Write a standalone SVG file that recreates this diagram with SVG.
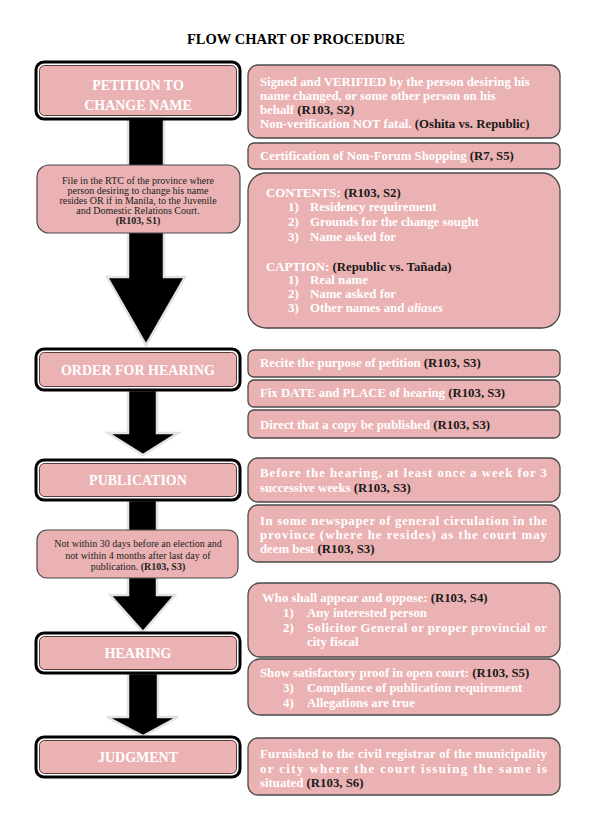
<svg xmlns="http://www.w3.org/2000/svg" width="593" height="821" viewBox="0 0 593 821">
<style>
.bg{fill:#ffffff}
.title{font-family:"Liberation Serif",serif;font-weight:bold;font-size:14.5px;fill:#000;text-anchor:middle}
.stageOuter{fill:none;stroke:#000;stroke-width:3}
.stageInner{fill:#ebb2b3;stroke:#5b3b3b;stroke-width:1}
.stageText{font-family:"Liberation Serif",serif;font-weight:bold;font-size:14px;fill:#fff;text-anchor:middle}
.box{fill:#ebb2b3;stroke:#4a4a4a;stroke-width:1.3}
.t{font-family:"Liberation Serif",serif;font-weight:bold;font-size:12.8px;fill:#fff}
.r{fill:#1a1a1a}
.note{fill:#ebb2b3;stroke:#4a4a4a;stroke-width:1.2}
.nt{font-family:"Liberation Serif",serif;font-size:10px;fill:#222;text-anchor:middle}
.arrow{fill:#000;stroke:#e2e2e2;stroke-width:2.5;stroke-linejoin:miter}
</style>
<rect class="bg" x="0" y="0" width="593" height="821"/>
<text class="title" x="296" y="44">FLOW CHART OF PROCEDURE</text>

<g id="connectors">
<polygon class="arrow" points="128,118 164,118 164,277 185,277 146,345 107,277 128,277"/>
<polygon class="arrow" points="128,390 157,390 157,433 178,433 143,455 108,433 128,433"/>
<polygon class="arrow" points="128,500 157,500 157,595 175,595 143,632 110,595 128,595"/>
<polygon class="arrow" points="128,673 158,673 158,717 178,717 143,736 107,717 128,717"/>
</g>

<g id="petition">
<rect class="stageOuter" x="36" y="62" width="204" height="57" rx="8"/>
<rect class="stageInner" x="39.5" y="65.5" width="197" height="50" rx="5"/>
<text class="stageText" x="138" y="90">PETITION TO</text>
<text class="stageText" x="138" y="110">CHANGE NAME</text>
</g>

<g id="note-file">
<rect class="note" x="37" y="165" width="203" height="68" rx="12"/>
<text class="nt" x="138" y="184">File in the RTC of the province where</text>
<text class="nt" x="138" y="194">person desiring to change his name</text>
<text class="nt" x="138" y="204">resides OR if in Manila, to the Juvenile</text>
<text class="nt" x="138" y="214">and Domestic Relations Court.</text>
<text class="nt" x="138" y="224" font-weight="bold">(R103, S1)</text>
</g>

<g id="signed">
<rect class="box" x="248" y="65" width="312" height="73" rx="10"/>
<text class="t" x="260" y="86">Signed and VERIFIED by the person desiring his</text>
<text class="t" x="260" y="100">name changed, or some other person on his</text>
<text class="t" x="260" y="114">behalf <tspan class="r">(R103, S2)</tspan></text>
<text class="t" x="260" y="128">Non-verification NOT fatal. <tspan class="r">(Oshita vs. Republic)</tspan></text>
</g>

<g id="certification">
<rect class="box" x="248" y="143" width="312" height="26" rx="6"/>
<text class="t" x="260" y="160">Certification of Non-Forum Shopping <tspan class="r">(R7, S5)</tspan></text>
</g>

<g id="contents">
<rect class="box" x="248" y="173" width="312" height="155" rx="18"/>
<text class="t" x="266" y="197">CONTENTS: <tspan class="r">(R103, S2)</tspan></text>
<text class="t" x="288" y="211">1)</text><text class="t" x="310" y="211">Residency requirement</text>
<text class="t" x="288" y="226">2)</text><text class="t" x="310" y="226">Grounds for the change sought</text>
<text class="t" x="288" y="241">3)</text><text class="t" x="310" y="241">Name asked for</text>
<text class="t" x="266" y="271">CAPTION: <tspan class="r">(Republic vs. Tañada)</tspan></text>
<text class="t" x="288" y="284">1)</text><text class="t" x="310" y="284">Real name</text>
<text class="t" x="288" y="298">2)</text><text class="t" x="310" y="298">Name asked for</text>
<text class="t" x="288" y="312">3)</text><text class="t" x="310" y="312">Other names and <tspan font-style="italic">aliases</tspan></text>
</g>

<g id="order">
<rect class="stageOuter" x="36" y="349" width="204" height="41" rx="8"/>
<rect class="stageInner" x="39.5" y="352.5" width="197" height="34" rx="5"/>
<text class="stageText" x="138" y="375">ORDER FOR HEARING</text>
</g>

<g id="recite">
<rect class="box" x="248" y="350" width="312" height="27" rx="6"/>
<text class="t" x="260" y="367">Recite the purpose of petition <tspan class="r">(R103, S3)</tspan></text>
</g>
<g id="fix">
<rect class="box" x="248" y="380" width="312" height="27" rx="6"/>
<text class="t" x="260" y="397">Fix DATE and PLACE of hearing <tspan class="r">(R103, S3)</tspan></text>
</g>
<g id="direct">
<rect class="box" x="248" y="410" width="312" height="28" rx="6"/>
<text class="t" x="260" y="429">Direct that a copy be published <tspan class="r">(R103, S3)</tspan></text>
</g>

<g id="publication">
<rect class="stageOuter" x="36" y="460" width="204" height="40" rx="8"/>
<rect class="stageInner" x="39.5" y="463.5" width="197" height="33" rx="5"/>
<text class="stageText" x="138" y="485">PUBLICATION</text>
</g>

<g id="before">
<rect class="box" x="248" y="458" width="312" height="44" rx="10"/>
<text class="t" x="260" y="477" textLength="287" lengthAdjust="spacing">Before the hearing, at least once a week for 3</text>
<text class="t" x="260" y="492">successive weeks <tspan class="r">(R103, S3)</tspan></text>
</g>
<g id="newspaper">
<rect class="box" x="248" y="505" width="312" height="57" rx="10"/>
<text class="t" x="260" y="525" textLength="287" lengthAdjust="spacing">In some newspaper of general circulation in the</text>
<text class="t" x="260" y="539" textLength="287" lengthAdjust="spacing">province (where he resides) as the court may</text>
<text class="t" x="260" y="553">deem best <tspan class="r">(R103, S3)</tspan></text>
</g>

<g id="note-election">
<rect class="note" x="37" y="530" width="201" height="48" rx="10"/>
<text class="nt" x="138" y="547">Not within 30 days before an election and</text>
<text class="nt" x="138" y="559">not within 4 months after last day of</text>
<text class="nt" x="138" y="570">publication. <tspan font-weight="bold">(R103, S3)</tspan></text>
</g>

<g id="hearing">
<rect class="stageOuter" x="36" y="633" width="204" height="40" rx="8"/>
<rect class="stageInner" x="39.5" y="636.5" width="197" height="33" rx="5"/>
<text class="stageText" x="138" y="658">HEARING</text>
</g>

<g id="who">
<rect class="box" x="248" y="583" width="312" height="74" rx="12"/>
<text class="t" x="262" y="602">Who shall appear and oppose: <tspan class="r">(R103, S4)</tspan></text>
<text class="t" x="283" y="617">1)</text><text class="t" x="307" y="617">Any interested person</text>
<text class="t" x="283" y="632">2)</text><text class="t" x="307" y="632" textLength="240" lengthAdjust="spacing">Solicitor General or proper provincial or</text>
<text class="t" x="307" y="646">city fiscal</text>
</g>
<g id="proof">
<rect class="box" x="248" y="659" width="312" height="56" rx="12"/>
<text class="t" x="260" y="677">Show satisfactory proof in open court: <tspan class="r">(R103, S5)</tspan></text>
<text class="t" x="283" y="692">3)</text><text class="t" x="307" y="692">Compliance of publication requirement</text>
<text class="t" x="283" y="707">4)</text><text class="t" x="307" y="707">Allegations are true</text>
</g>

<g id="judgment">
<rect class="stageOuter" x="36" y="737" width="204" height="40" rx="8"/>
<rect class="stageInner" x="39.5" y="740.5" width="197" height="33" rx="5"/>
<text class="stageText" x="138" y="762">JUDGMENT</text>
</g>

<g id="furnished">
<rect class="box" x="248" y="738" width="312" height="57" rx="10"/>
<text class="t" x="260" y="758" textLength="287" lengthAdjust="spacing">Furnished to the civil registrar of the municipality</text>
<text class="t" x="260" y="773" textLength="287" lengthAdjust="spacing">or city where the court issuing the same is</text>
<text class="t" x="260" y="787">situated <tspan class="r">(R103, S6)</tspan></text>
</g>
</svg>
